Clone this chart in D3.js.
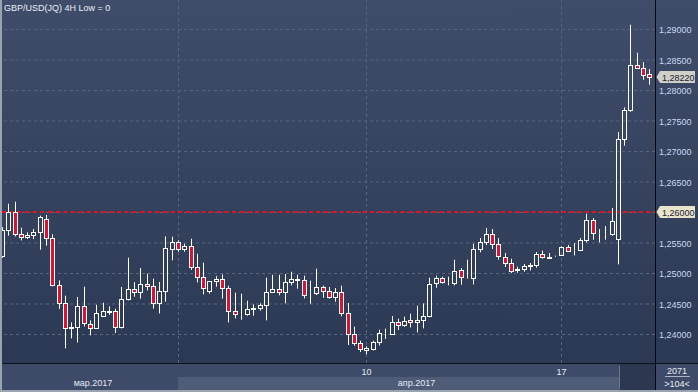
<!DOCTYPE html>
<html><head><meta charset="utf-8">
<script src="https://cdn.jsdelivr.net/npm/d3@7"></script>
<style>
html,body{margin:0;padding:0;background:#2e3b57;overflow:hidden}
svg{display:block}
text{font-family:"Liberation Sans",Arial,sans-serif}
</style>
</head><body>
<svg id="c" width="698" height="392"></svg>
<script>
const title = "GBP/USD(JQ) 4H Low = 0";
const open = [
1.25272,1.25698,1.26005,1.25639,1.2559,1.25623,1.25672,1.25885,1.25574,1.24803,
1.24508,1.24098,1.24115,1.24459,1.24164,1.24098,1.24295,1.24368,1.24377,1.24108,
1.24574,1.24743,1.24689,1.24825,1.24787,1.24508,1.24705,1.25398,1.25508,1.25393,
1.25448,1.25098,1.24934,1.2471,1.24862,1.24902,1.24754,1.24377,1.24328,1.24321,
1.2441,1.2442,1.24469,1.24682,1.24738,1.24682,1.24846,1.24893,1.24885,1.24687,
1.24672,1.2477,1.24705,1.246,1.24689,1.24344,1.24,1.23852,1.23743,1.23748,
1.23869,1.24014,1.24,1.24197,1.24148,1.24234,1.24197,1.24223,1.24289,1.2483,
1.24918,1.24851,1.24836,1.25054,1.24921,1.24911,1.25393,1.25508,1.25639,1.25475,
1.25262,1.25164,1.25043,1.25059,1.25108,1.25125,1.25311,1.25254,1.25278,1.253,
1.25426,1.2538,1.2537,1.25534,1.25869,1.25654,1.25637,1.25633,1.25551,1.27197,
1.27666,1.2841,1.28354,1.28266];
const high = [
1.2575,1.26136,1.26169,1.25743,1.25666,1.25721,1.25939,1.25951,1.25633,1.24879,
1.24628,1.2419,1.24607,1.24775,1.24223,1.2448,1.24513,1.24452,1.24415,1.2477,
1.25251,1.24852,1.25082,1.24989,1.24907,1.24852,1.256,1.25595,1.25534,1.2548,
1.25562,1.25316,1.25169,1.24869,1.24951,1.24977,1.24792,1.24677,1.24661,1.24546,
1.24485,1.24502,1.24923,1.24972,1.24972,1.24984,1.25021,1.24972,1.24956,1.24874,
1.2507,1.24792,1.2477,1.24754,1.24792,1.24508,1.2412,1.2389,1.23797,1.2389,
1.2407,1.24087,1.24295,1.24251,1.24284,1.24333,1.24464,1.24502,1.24923,1.24956,
1.24939,1.24939,1.25218,1.25082,1.25218,1.2548,1.25574,1.25738,1.25721,1.25574,
1.25328,1.25234,1.25103,1.25148,1.25164,1.25344,1.25366,1.25328,1.25285,1.25436,
1.25459,1.25492,1.25574,1.25972,1.25902,1.25721,1.2577,1.26066,1.27311,1.27715,
1.2907,1.28611,1.28459,1.28344];
const low = [
1.2525,1.25611,1.256,1.25534,1.25557,1.25557,1.25382,1.25448,1.2478,1.2441,
1.23764,1.23928,1.23862,1.24125,1.23977,1.24087,1.24284,1.24316,1.24016,1.24092,
1.24551,1.24611,1.24579,1.24715,1.24415,1.24338,1.2453,1.25207,1.25349,1.25349,
1.25049,1.24846,1.24649,1.24661,1.24775,1.24579,1.2419,1.24256,1.24234,1.243,
1.243,1.24382,1.24223,1.24672,1.24633,1.24502,1.24797,1.24743,1.24584,1.24497,
1.24639,1.24595,1.24579,1.2453,1.24289,1.2382,1.23808,1.23705,1.23666,1.23731,
1.23813,1.23918,1.23989,1.24066,1.2412,1.24108,1.24026,1.24092,1.24272,1.24759,
1.24825,1.24797,1.24797,1.24808,1.24911,1.24813,1.25338,1.25459,1.25393,1.25218,
1.25098,1.25,1.25005,1.25021,1.25043,1.25087,1.25234,1.25239,1.25275,1.25289,
1.25344,1.25289,1.25361,1.25502,1.25546,1.25502,1.25546,1.25611,1.25141,1.27087,
1.27644,1.28344,1.28169,1.28087];
const close = [
1.2571,1.26005,1.25639,1.25595,1.25623,1.25677,1.25918,1.25574,1.24797,1.24508,
1.24098,1.2412,1.24459,1.2418,1.24098,1.24344,1.24382,1.24372,1.24115,1.24574,
1.24738,1.24689,1.2482,1.2478,1.24502,1.24705,1.2541,1.25508,1.25387,1.25436,
1.25098,1.24928,1.24748,1.24869,1.24902,1.24748,1.24377,1.24328,1.24332,1.2441,
1.24431,1.24475,1.24693,1.24738,1.24689,1.24857,1.24902,1.24897,1.24639,1.24691,
1.24775,1.24705,1.246,1.24689,1.24344,1.24,1.23846,1.23748,1.23764,1.23869,
1.24016,1.24018,1.24197,1.24148,1.24218,1.24197,1.24234,1.24295,1.24825,1.24918,
1.24846,1.24854,1.25033,1.24928,1.24924,1.25393,1.25508,1.25639,1.2548,1.25272,
1.25164,1.25033,1.2507,1.2512,1.25131,1.25311,1.25262,1.25257,1.2528,1.25426,
1.25361,1.25383,1.25541,1.25869,1.25649,1.25658,1.2564,1.25852,1.27197,1.27672,
1.2841,1.28354,1.28246,1.2822];
const yTicks = [1.24,1.245,1.25,1.255,1.26,1.265,1.27,1.275,1.28,1.285,1.29];
const dayTickIdx = [58, 89];
const dayTickLabels = ["10", "17"];
const monthStartIdx = [28];
const monthLabels = ["мар.2017", "апр.2017"];
const levelPrice = 1.26;
const lastPrice = 1.2822;
const totalBars = "2071";
const visibleBars = ">104<";

const W = 698, H = 392, L = 2, R = 655, B = 363;
const svg = d3.select("#c");
const defs = svg.append("defs");
const gr = defs.append("linearGradient").attr("id","bg").attr("x1",0).attr("y1",0).attr("x2",0).attr("y2",1);
gr.append("stop").attr("offset","0%").attr("stop-color","#3f4d6a");
gr.append("stop").attr("offset","100%").attr("stop-color","#2c3954");
defs.append("clipPath").attr("id","clip").append("rect").attr("x",L).attr("y",0).attr("width",R-L).attr("height",B);

svg.append("rect").attr("width",W).attr("height",B).attr("fill","url(#bg)");

const x = d3.scaleLinear().domain([0, open.length-1]).range([2, 649.3]).interpolate(d3.interpolateRound);
const y = d3.scaleLinear().domain([1.24, 1.29]).range([334, 29]);
const fmt = v => d3.format(".5f")(v).replace(".", ",");

// horizontal grid
svg.append("g").attr("transform",`translate(${R},0)`)
  .call(d3.axisLeft(y).tickValues(yTicks).tickSize(R-L).tickFormat(""))
  .call(a => { a.select(".domain").remove();
    a.selectAll("line").attr("stroke","#56657f").attr("stroke-dasharray","3,3"); });

// vertical grid
svg.append("g")
  .call(d3.axisBottom(x).tickValues(monthStartIdx.concat(dayTickIdx)).tickSize(B).tickFormat(""))
  .call(a => { a.select(".domain").remove();
    a.selectAll("line").attr("stroke","#56657f").attr("stroke-dasharray","3,3"); });

// level line
svg.append("line").attr("x1",L).attr("x2",R).attr("y1",y(levelPrice)).attr("y2",y(levelPrice))
  .attr("stroke","#e8101e").attr("stroke-width",2).attr("stroke-dasharray","4,3.67");

// candles
const data = open.map((o,i) => ({i, o, h: high[i], l: low[i], c: close[i]}));
const cg = svg.append("g").attr("clip-path","url(#clip)");
const cs = cg.selectAll("g").data(data).join("g");
const cx = d => x(d.i) + 0.5;
const yt = d => Math.round(y(Math.max(d.o,d.c)));
const yb = d => Math.round(y(Math.min(d.o,d.c)));
cs.append("line").attr("x1",cx).attr("x2",cx).attr("y1",d=>y(d.h)).attr("y2",d=>yt(d)+0.5)
  .attr("stroke","#fff").attr("stroke-width",1);
cs.append("line").attr("x1",cx).attr("x2",cx).attr("y1",d=>yb(d)+0.5).attr("y2",d=>y(d.l))
  .attr("stroke","#fff").attr("stroke-width",1);
cs.append("rect").attr("x",d=>cx(d)-2).attr("y",d=>yt(d)+0.5)
  .attr("width",4).attr("height",d=>Math.max(0, yb(d)-yt(d)))
  .attr("fill",d=>d.c < d.o ? "#e0102f" : "none")
  .attr("stroke","#fff").attr("stroke-width",1);

// y axis labels (the level tag covers its own tick label)
svg.append("g").attr("transform",`translate(${R},0)`)
  .call(d3.axisRight(y).tickValues(yTicks.filter(v => Math.abs(v - levelPrice) > 1e-9)).tickSize(0).tickPadding(4).tickFormat(fmt))
  .call(a => { a.select(".domain").remove();
    a.selectAll("text").attr("fill","#c8d8f0").attr("font-size","9px").attr("dy","0.44em")
      .attr("font-family","'Liberation Sans',Arial,sans-serif"); });

// price tags
function tag(p, fill) {
  const yc = Math.round(y(p));
  const g = svg.append("g");
  g.append("path").attr("d",`M656.5,${yc} L660,${yc-6} L695,${yc-6} L695,${yc+6} L660,${yc+6} Z`)
    .attr("fill",fill);
  g.append("text").attr("x",662).attr("y",yc+3.5).attr("font-size","9px").attr("fill","#1c2230").text(fmt(p));
}
tag(levelPrice, "#e8e5cc");
tag(lastPrice, "#cfd0c8");

// bottom area
svg.append("rect").attr("x",0).attr("y",B).attr("width",W).attr("height",H-B).attr("fill","#3e4b68");
svg.append("rect").attr("x",x(monthStartIdx[0])).attr("y",377).attr("width",620-x(monthStartIdx[0])).attr("height",13).attr("fill","#4e5c78");
svg.append("rect").attr("x",620).attr("y",364).attr("width",35).attr("height",26).attr("fill","#2c3752");
svg.append("line").attr("x1",619.5).attr("x2",619.5).attr("y1",366).attr("y2",388).attr("stroke","#6a768c");
svg.append("line").attr("x1",0).attr("x2",W).attr("y1",B+0.5).attr("y2",B+0.5).attr("stroke","#0e121a");

// day labels via axis
svg.append("g").attr("transform",`translate(0,${B})`)
  .call(d3.axisBottom(x).tickValues(dayTickIdx).tickSize(0).tickPadding(0).tickFormat((d,i)=>dayTickLabels[i]))
  .call(a => { a.select(".domain").remove();
    a.selectAll("text").attr("fill","#e4eaf4").attr("font-size","9px").attr("dy","0").attr("y",11.5)
      .attr("font-family","'Liberation Sans',Arial,sans-serif"); });
// month labels
const monthCenters = [(0 + x(monthStartIdx[0]))/2 + 4, (x(monthStartIdx[0]) + R)/2];
svg.selectAll(".ml").data(monthLabels).join("text").attr("class","ml")
  .attr("x",(d,i)=>monthCenters[i]).attr("y",386).attr("text-anchor","middle")
  .attr("font-size","9px").attr("fill","#e4eaf4").text(d=>d);

// right lower panel
svg.append("text").attr("x",677).attr("y",374).attr("text-anchor","middle").attr("font-size","9px").attr("fill","#e8ecf4").text(totalBars);
svg.append("line").attr("x1",665).attr("x2",690).attr("y1",376.5).attr("y2",376.5).attr("stroke","#aab4c4");
svg.append("text").attr("x",677).attr("y",386.5).attr("text-anchor","middle").attr("font-size","9px").attr("fill","#e8ecf4").text(visibleBars);

// separator
svg.append("line").attr("x1",R+0.5).attr("x2",R+0.5).attr("y1",0).attr("y2",H).attr("stroke","#05070c");

// borders
svg.append("rect").attr("x",0).attr("y",0).attr("width",2).attr("height",H).attr("fill","#9aa3b0");
svg.append("rect").attr("x",0).attr("y",390).attr("width",W).attr("height",2).attr("fill","#9aa3b0");

// title
svg.append("text").attr("x",4).attr("y",11).attr("font-size","9px").attr("fill","#e8eef8").text(title);
</script>
</body></html>
